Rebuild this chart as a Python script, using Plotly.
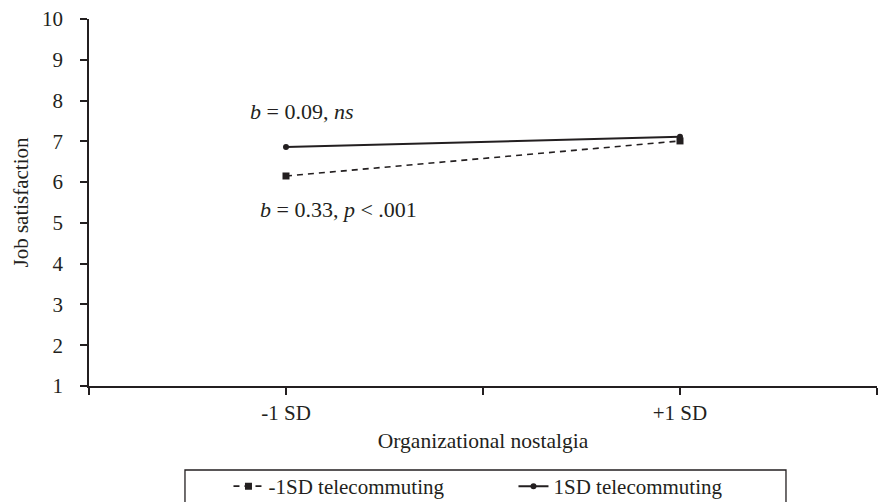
import plotly.graph_objects as go

categories = ["-1 SD", "+1 SD"]
low_telecommuting = [6.15, 7.01]   # -1SD telecommuting
high_telecommuting = [6.86, 7.11]  # 1SD telecommuting
series_names = ["-1SD telecommuting", "1SD telecommuting"]
y_ticks = list(range(1, 11))

FONT = "Liberation Serif"
INK = "#231f20"
FS = 21

xpos = [i + 1 for i in range(len(categories))]
tickvals = [0.5, 1, 1.5, 2, 2.5]
ticktext = ["", categories[0], "", categories[1], ""]

fig = go.Figure()
fig.add_trace(go.Scatter(
    x=xpos, y=low_telecommuting, name=series_names[0], mode="lines+markers",
    line=dict(color=INK, width=1.6, dash="6px,5px"),
    marker=dict(symbol="square", size=7, color=INK),
))
fig.add_trace(go.Scatter(
    x=xpos, y=high_telecommuting, name=series_names[1], mode="lines+markers",
    line=dict(color=INK, width=2),
    marker=dict(symbol="circle", size=6, color=INK),
))

fig.add_annotation(x=0.904, y=7.72, xref="x", yref="y", xanchor="left", yanchor="middle",
                   text="<i>b</i> = 0.09, <i>ns</i>", showarrow=False,
                   font=dict(family=FONT, size=22, color=INK))
fig.add_annotation(x=0.929, y=5.32, xref="x", yref="y", xanchor="left", yanchor="middle",
                   text="<i>b</i> = 0.33, <i>p</i> < .001", showarrow=False,
                   font=dict(family=FONT, size=22, color=INK))

# legend frame (extends past the bottom edge, as in the reference)
fig.add_shape(type="rect", xref="paper", yref="paper",
              x0=0.1218, x1=0.8845, y0=-0.2289, y1=-0.40,
              line=dict(color=INK, width=1.3), fillcolor="rgba(0,0,0,0)", layer="above")

fig.update_layout(
    width=878, height=502,
    margin=dict(l=89, r=1, t=19, b=116, autoexpand=False),
    paper_bgcolor="white", plot_bgcolor="white",
    font=dict(family=FONT, size=FS, color=INK),
    showlegend=True,
    legend=dict(
        orientation="h", x=0.177, xanchor="left", y=-0.218, yanchor="top",
        borderwidth=0, font=dict(family=FONT, size=FS, color=INK),
        entrywidth=240, itemwidth=30, bgcolor="rgba(0,0,0,0)",
    ),
    xaxis=dict(
        range=[0.5, 2.5], tickvals=tickvals, ticktext=ticktext,
        showline=True, linecolor=INK, linewidth=1.5, ticks="outside", ticklen=7,
        tickcolor=INK, tickwidth=1.5, showgrid=False, zeroline=False,
        title=dict(text="Organizational nostalgia", font=dict(family=FONT, size=21.5, color=INK), standoff=9),
        fixedrange=True,
    ),
    yaxis=dict(
        range=[1, 10], tickvals=y_ticks,
        showline=True, linecolor=INK, linewidth=1.5, ticks="outside", ticklen=7,
        tickcolor=INK, tickwidth=1.5, showgrid=False, zeroline=False,
        title=dict(text="Job satisfaction", font=dict(family=FONT, size=FS, color=INK), standoff=8),
        ticklabelstandoff=13,
    ),
)

fig.write_html("out.html", config={"displayModeBar": False},
               post_script="document.body.style.margin='0';document.body.style.overflow='hidden';")
